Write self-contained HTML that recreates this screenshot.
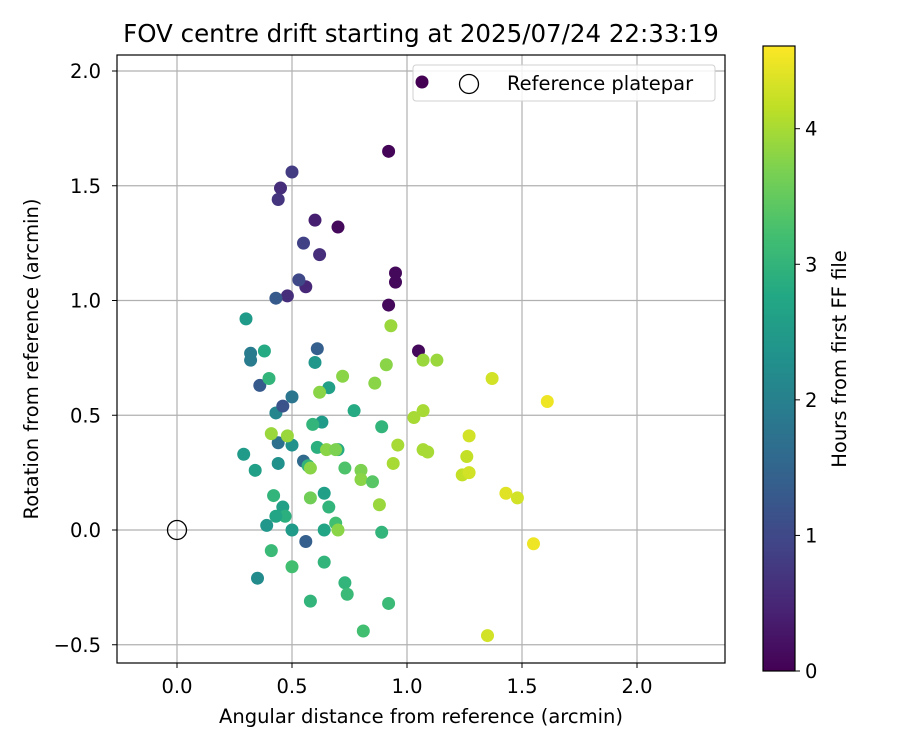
<!DOCTYPE html>
<html><head><meta charset="utf-8"><style>
body{margin:0;background:#fff;font-family:"Liberation Sans","DejaVu Sans",sans-serif}
svg text{font-family:"DejaVu Sans","Liberation Sans",sans-serif;fill:#000}
</style></head><body>
<svg id="c" width="900" height="750" xmlns="http://www.w3.org/2000/svg"></svg>
<script>
const xs=[.92,.70,.95,.95,.92,1.05,.56,.50,.45,.44,.60,.55,.62,.53,.48,.43,.61,.32,.32,.36,.30,.38,.40,.43,.46,.50,.60,.66,.44,.50,.55,.61,.63,.59,.29,.34,.44,.57,.42,.46,.47,.43,.39,.50,.56,.64,.66,.64,.69,.41,.35,.50,.64,.58,.73,.74,.81,.92,.89,.89,.77,.73,.70,.62,.72,.41,.48,.65,.58,.69,.58,.70,.80,.80,.85,.86,.91,.93,.96,.94,.88,1.07,1.13,1.07,1.03,1.07,1.09,1.27,1.24,1.27,1.26,1.37,1.43,1.48,1.61,1.55,1.35];
const ys=[1.65,1.32,1.12,1.08,.98,.78,1.06,1.56,1.49,1.44,1.35,1.25,1.20,1.09,1.02,1.01,.79,.77,.74,.63,.92,.78,.66,.51,.54,.58,.73,.62,.38,.37,.30,.36,.47,.46,.33,.26,.29,.28,.15,.10,.06,.06,.02,0,-.05,.16,.10,0,.03,-.09,-.21,-.16,-.14,-.31,-.23,-.28,-.44,-.32,-.01,.45,.52,.27,.35,.60,.67,.42,.41,.35,.27,.35,.14,0,.26,.22,.21,.64,.72,.89,.37,.29,.11,.74,.74,.52,.49,.35,.34,.41,.24,.25,.32,.66,.16,.14,.56,-.06,-.46];
const hours=[.05,.1,.1,.1,.1,.1,.5,.8,.6,.7,.4,.9,.6,1.0,.6,1.3,1.4,1.9,1.9,1.3,2.5,2.8,3.0,2.1,1.2,1.8,2.4,2.6,1.7,2.3,1.6,2.9,2.5,3.0,2.5,2.6,2.3,3.0,3.0,2.6,2.9,2.7,2.4,2.5,1.4,2.6,3.0,2.7,3.2,3.1,2.2,3.2,3.0,3.0,3.0,3.1,3.2,3.1,3.0,3.0,2.8,3.3,2.8,3.8,3.8,3.9,3.9,3.8,3.8,3.7,3.6,3.8,3.7,3.8,3.4,3.8,3.8,3.9,4.0,4.0,3.9,3.9,3.9,4.0,4.0,4.0,4.0,4.3,4.2,4.3,4.2,4.3,4.4,4.3,4.5,4.5,4.3];
const xTicks=[0,0.5,1,1.5,2];
const yTicks=[-0.5,0,0.5,1,1.5,2];
const cTicks=[0,1,2,3,4];
const hMax=4.61;
const L=117,R=725,T=55,B=663;
const X=v=>177+v*230, Y=v=>530-v*229.5;
const V=['#440154','#482475','#414487','#355f8d','#2a788e','#21918c','#22a884','#44bf70','#7ad151','#bddf26','#fde725'];
function vir(t){t=Math.max(0,Math.min(1,t))*10;const i=Math.min(9,Math.floor(t)),f=t-i;const a=V[i],b=V[i+1];let o='#';for(let k=1;k<7;k+=2){const c=Math.round(parseInt(a.substr(k,2),16)*(1-f)+parseInt(b.substr(k,2),16)*f);o+=c.toString(16).padStart(2,'0');}return o;}
const s=document.getElementById('c');const NS='http://www.w3.org/2000/svg';
function el(t,a,p){const e=document.createElementNS(NS,t);for(const k in a)e.setAttribute(k,a[k]);(p||s).appendChild(e);return e;}
function tx(x,y,str,a){const e=el('text',Object.assign({x:x,y:y,'font-size':19.5},a||{}));e.textContent=str;return e;}
let t=tx(421,42,'FOV centre drift starting at 2025/07/24 22:33:19',{'text-anchor':'middle','font-size':24.5});


xTicks.forEach(v=>{const g=el('line',{x1:X(v),x2:X(v),y1:T,y2:B,stroke:'#b0b0b0','stroke-width':1.2});


el('line',{x1:X(v),x2:X(v),y1:B,y2:B+5,stroke:'#000'});
const l=tx(X(v),B+30,v.toFixed(1),{'text-anchor':'middle'});

});
yTicks.forEach(v=>{const g=el('line',{x1:L,x2:R,y1:Y(v),y2:Y(v),stroke:'#b0b0b0','stroke-width':1.2});


el('line',{x1:L-5,x2:L,y1:Y(v),y2:Y(v),stroke:'#000'});
const l=tx(L-16,Y(v)+7,(v<0?'\u2212':'')+Math.abs(v).toFixed(1),{'text-anchor':'end'});

});
xs.forEach((x,i)=>{const c=el('circle',{cx:X(x),cy:Y(ys[i]),r:6.5,fill:vir(hours[i]/hMax)});

});
let rp=el('circle',{cx:X(0),cy:Y(0),r:9.5,fill:'none',stroke:'#000','stroke-width':1.3});


let fr=el('rect',{x:L,y:T,width:R-L,height:B-T,fill:'none',stroke:'#000','stroke-width':1.2});


let xl=tx(421,723,'Angular distance from reference (arcmin)',{'text-anchor':'middle'});


let yl=tx(0,0,'Rotation from reference (arcmin)',{'text-anchor':'middle',transform:'translate(38,359) rotate(-90)'});


let lg=el('rect',{x:413,y:65,width:302,height:36,rx:3,fill:'#fff','fill-opacity':0.85,stroke:'#d0d0d0'});


let ld=el('circle',{cx:422,cy:82,r:6.5,fill:'#440154'});


let lc=el('circle',{cx:469,cy:84,r:9.5,fill:'none',stroke:'#000','stroke-width':1.3});


let lt=tx(507,90,'Reference platepar',{'font-size':19.5});


const d=el('defs',{});const gr=el('linearGradient',{id:'vg',x1:0,y1:1,x2:0,y2:0},d);
V.forEach((c,i)=>el('stop',{offset:i/10,'stop-color':c},gr));
const cT=46,cB=671,cL=763,cW=32,CY=h=>cB-h*(cB-cT)/hMax;
let cb=el('rect',{x:cL,y:cT,width:cW,height:cB-cT,fill:'url(#vg)',stroke:'#000','stroke-width':1.2});


cTicks.forEach(v=>{el('line',{x1:cL+cW,x2:cL+cW+5,y1:CY(v),y2:CY(v),stroke:'#000'});
const l=tx(cL+cW+10,CY(v)+7,String(v));

});
let cl=tx(0,0,'Hours from first FF file',{'text-anchor':'middle',transform:'translate(846,359) rotate(-90)'});


</script>
</body></html>
